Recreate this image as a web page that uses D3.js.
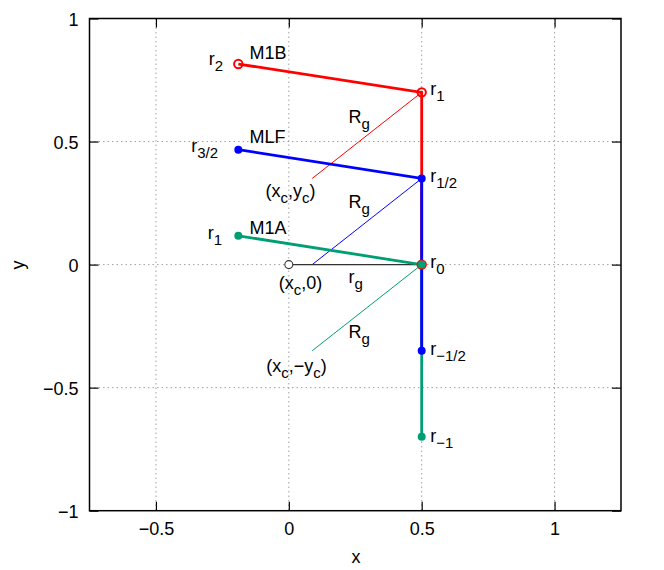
<!DOCTYPE html>
<html>
<head>
<meta charset="utf-8">
<script src="https://cdn.jsdelivr.net/npm/d3@7"></script>
<style>
  body { margin: 0; background: #fff; }
  text { font-family: "Liberation Sans", Arial, sans-serif; }
</style>
</head>
<body>
<svg id="chart" width="664" height="570"></svg>
<script>
// series: vertices of the three paths
const m1bX = [-0.19, 0.5, 0.5];
const m1bY = [0.815, 0.7, 0];
const mlfX = [-0.19, 0.5, 0.5];
const mlfY = [0.467, 0.35, -0.35];
const m1aX = [-0.19, 0.5, 0.5];
const m1aY = [0.117, 0, -0.7];

// thin R_g segments (start -> end)
const rgStartX = [0.088, 0.088, 0.088];
const rgStartY = [0.35, 0, -0.35];
const rgEndX = [0.5, 0.5, 0.5];
const rgEndY = [0.7, 0.35, 0];

// r_g segment from centre point to r0
const centreX = [0, 0.5];
const centreY = [0, 0];

const xTicks = [-0.5, 0, 0.5, 1];
const yTicks = [-1, -0.5, 0, 0.5, 1];

// annotations: text, x, y (baseline, data coords), anchor
const labels = [
    ["r_{2}", -0.247, 0.811, "end"],
    ["M1B", -0.148, 0.834, "start"],
    ["r_{1}", 0.532, 0.688, "start"],
    ["R_{g}", 0.225, 0.577, "start"],
    ["MLF", -0.148, 0.495, "start"],
    ["r_{3/2}", -0.266, 0.459, "end"],
    ["r_{1/2}", 0.532, 0.337, "start"],
    ["(x_{c},y_{c})", 0.006, 0.273, "middle"],
    ["R_{g}", 0.225, 0.232, "start"],
    ["r_{1}", -0.251, 0.104, "end"],
    ["M1A", -0.148, 0.124, "start"],
    ["r_{0}", 0.532, -0.015, "start"],
    ["(x_{c},0)", -0.038, -0.100, "start"],
    ["r_{g}", 0.225, -0.075, "start"],
    ["R_{g}", 0.225, -0.298, "start"],
    ["(x_{c},\u2212y_{c})", -0.085, -0.437, "start"],
    ["r_{\u22121/2}", 0.532, -0.367, "start"],
    ["r_{\u22121}", 0.532, -0.720, "start"]
];

const red = "#ff0000", blue = "#0000ff", green = "#009e73";

const svg = d3.select("#chart");
const mLeft = 89.5, mRight = 621, mTop = 18.5, mBottom = 510.7;

const x = d3.scaleLinear().domain([-0.75, 1.25]).range([mLeft, mRight]);
const y = d3.scaleLinear().domain([-1, 1]).range([mBottom, mTop]);

// grid
const grid = svg.append("g")
    .attr("stroke", "#a0a0a0")
    .attr("stroke-width", 1)
    .attr("stroke-dasharray", "1.5,3");
grid.selectAll("line.gx").data(xTicks).join("line")
    .attr("x1", d => x(d)).attr("x2", d => x(d))
    .attr("y1", mTop).attr("y2", mBottom);
grid.selectAll("line.gy").data(yTicks.filter(d => d > -1 && d < 1)).join("line")
    .attr("x1", mLeft).attr("x2", mRight)
    .attr("y1", d => y(d)).attr("y2", d => y(d));

// axes with inward ticks, mirrored on top/right
const fmt = d3.format("");
function styleAxis(g) {
    g.select(".domain").remove();
    g.selectAll(".tick line").attr("stroke", "#000").attr("stroke-width", 1.2);
    g.selectAll(".tick text").attr("font-size", 18).attr("fill", "#000")
        .style("font-family", "'Liberation Sans', Arial, sans-serif");
}
svg.append("g").attr("transform", `translate(0,${mBottom})`)
    .call(d3.axisBottom(x).tickValues(xTicks).tickFormat(fmt).tickSize(-9).tickPadding(12))
    .call(styleAxis);
svg.append("g").attr("transform", `translate(0,${mTop})`)
    .call(d3.axisTop(x).tickValues(xTicks).tickFormat("").tickSize(-9))
    .call(styleAxis);
svg.append("g").attr("transform", `translate(${mLeft},0)`)
    .call(d3.axisLeft(y).tickValues(yTicks).tickFormat(fmt).tickSize(-9).tickPadding(11))
    .call(styleAxis)
    .selectAll(".tick text").attr("dy", "0.38em");
svg.append("g").attr("transform", `translate(${mRight},0)`)
    .call(d3.axisRight(y).tickValues(yTicks).tickFormat("").tickSize(-9))
    .call(styleAxis);

svg.append("rect")
    .attr("x", mLeft).attr("y", mTop)
    .attr("width", mRight - mLeft).attr("height", mBottom - mTop)
    .attr("fill", "none").attr("stroke", "#000").attr("stroke-width", 1.5);

svg.append("text").attr("x", 356).attr("y", 563)
    .attr("text-anchor", "middle").attr("font-size", 18).text("x");
svg.append("text").attr("transform", "translate(24,265) rotate(-90)")
    .attr("text-anchor", "middle").attr("font-size", 18).text("y");

const line = d3.line().x(d => x(d[0])).y(d => y(d[1]));
const zip = (xs, ys) => xs.map((v, i) => [v, ys[i]]);

// thin lines
const thinColors = [red, blue, green];
rgStartX.forEach((sx, i) => {
    svg.append("path")
        .attr("d", line([[sx, rgStartY[i]], [rgEndX[i], rgEndY[i]]]))
        .attr("fill", "none").attr("stroke", thinColors[i]).attr("stroke-width", 1);
});
svg.append("path")
    .attr("d", line(zip(centreX, centreY)))
    .attr("fill", "none").attr("stroke", "#333").attr("stroke-width", 1.2);
svg.append("circle")
    .attr("cx", x(centreX[0])).attr("cy", y(centreY[0])).attr("r", 4)
    .attr("fill", "#fff").attr("stroke", "#333").attr("stroke-width", 1.1);

// thick paths
[[m1aX, m1aY, green], [m1bX, m1bY, red], [mlfX, mlfY, blue]].forEach(([xs, ys, c]) => {
    svg.append("path").attr("d", line(zip(xs, ys)))
        .attr("fill", "none").attr("stroke", c).attr("stroke-width", 2.8);
});

// points
svg.selectAll("circle.m1b").data(zip(m1bX, m1bY)).join("circle")
    .attr("class", "m1b")
    .attr("cx", d => x(d[0])).attr("cy", d => y(d[1])).attr("r", 4.2)
    .attr("fill", "none").attr("stroke", red).attr("stroke-width", 2);
svg.selectAll("circle.mlf").data(zip(mlfX, mlfY)).join("circle")
    .attr("class", "mlf")
    .attr("cx", d => x(d[0])).attr("cy", d => y(d[1])).attr("r", 4)
    .attr("fill", blue);
svg.selectAll("circle.m1a").data(zip(m1aX, m1aY)).join("circle")
    .attr("class", "m1a")
    .attr("cx", d => x(d[0])).attr("cy", d => y(d[1])).attr("r", 4)
    .attr("fill", green);

// labels with _{...} subscripts
labels.forEach(([txt, lx, ly, anchor]) => {
    const t = svg.append("text")
        .attr("x", x(lx)).attr("y", y(ly))
        .attr("text-anchor", anchor).attr("font-size", 18);
    const parts = txt.split(/(_\{[^}]*\})/).filter(s => s.length);
    let shifted = false;
    parts.forEach(p => {
        if (p.startsWith("_{")) {
            t.append("tspan").attr("font-size", 15).attr("dy", 6).text(p.slice(2, -1));
            shifted = true;
        } else {
            t.append("tspan").attr("dy", shifted ? -6 : 0).text(p);
            shifted = false;
        }
    });
});
</script>
</body>
</html>
